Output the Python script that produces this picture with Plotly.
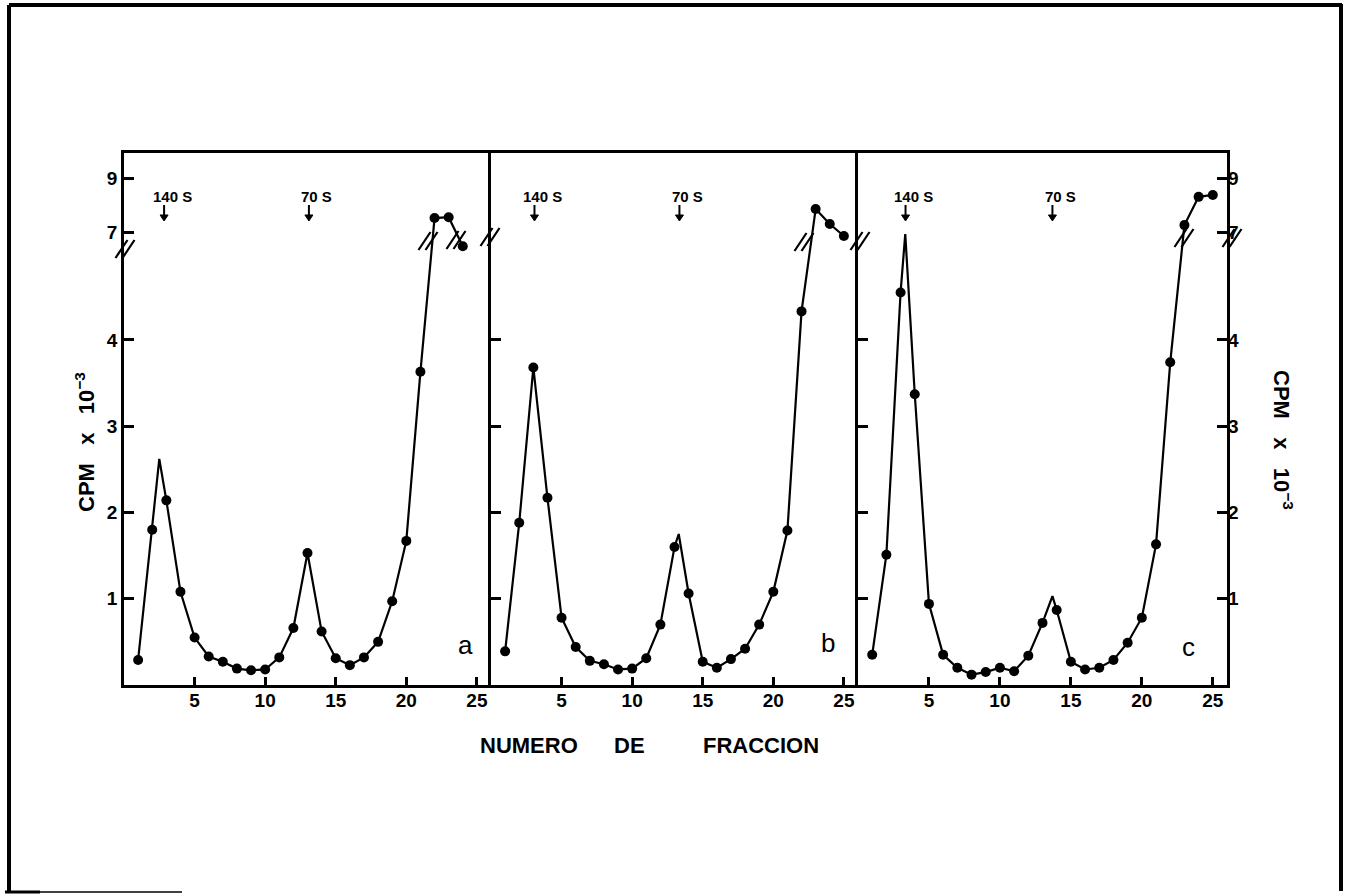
import plotly.graph_objects as go

# ---------------- data: CPM x 10^-3 per gradient fraction ----------------
fractions_a = list(range(1, 25))
cpm_a = [0.29, 1.80, 2.14, 1.08, 0.55, 0.33, 0.27, 0.19, 0.17, 0.18, 0.32, 0.66,
         1.53, 0.62, 0.31, 0.23, 0.32, 0.50, 0.97, 1.67, 3.63, 7.54, 7.57, 6.50]
apex_x_a = [2.5]
apex_cpm_a = [2.62]

fractions_b = list(range(1, 26))
cpm_b = [0.39, 1.88, 3.68, 2.17, 0.78, 0.44, 0.28, 0.24, 0.18, 0.19, 0.31, 0.70,
         1.60, 1.06, 0.27, 0.20, 0.30, 0.42, 0.70, 1.08, 1.79, 4.33, 7.87, 7.32, 6.88]
apex_x_b = [13.3]
apex_cpm_b = [1.75]

fractions_c = list(range(1, 26))
cpm_c = [0.35, 1.51, 4.55, 3.37, 0.94, 0.35, 0.20, 0.12, 0.15, 0.20, 0.16, 0.34,
         0.72, 0.87, 0.27, 0.18, 0.20, 0.29, 0.49, 0.78, 1.63, 3.74, 7.28, 8.32, 8.39]
apex_x_c = [3.33, 13.7]
apex_cpm_c = [6.95, 1.03]

panel_letters = ["a", "b", "c"]
marker_140S_x = [2.84, 3.08, 3.35]
marker_70S_x = [13.1, 13.35, 13.7]
marker_labels = ["140 S", "70 S"]

x_tick_vals = [5, 10, 15, 20, 25]
x_tick_text = ["5", "10", "15", "20", "25"]
y_tick_vals = [1, 2, 3, 4, 7, 9]
y_tick_text = ["1", "2", "3", "4", "7", "9"]
y_tick_vals_inner = [1, 2, 3, 4]
x_title_words = ["NUMERO", "DE", "FRACCION"]
y_title = "CPM\u00a0\u00a0\u00a0x\u00a0\u00a0\u00a010<sup>\u22123</sup>"

# ---------------- broken y axis (lower 0..5.1, upper 6.7..9.9 compressed) ----------------
BREAK_LOW, BREAK_HIGH, UPPER_SCALE = 5.135, 6.66, 0.315
Y_TOP = 6.166


def axis_pos(v):
    return v if v <= BREAK_LOW else BREAK_LOW + (v - BREAK_HIGH) * UPPER_SCALE


# ---------------- figure geometry ----------------
W, H = 1352, 894
ML, MR, MT, MB = 124, 125, 153, 209
PW, PH = W - ML - MR, H - MT - MB
D1, D2 = 367 / PW, 734 / PW


def pxx(px):
    return (px - ML) / PW


def pxy(py):
    return (H - MB - py) / PH


FONT = "Liberation Sans, Arial, sans-serif"

fig = go.Figure()
panels = [
    (fractions_a, cpm_a, apex_x_a, apex_cpm_a),
    (fractions_b, cpm_b, apex_x_b, apex_cpm_b),
    (fractions_c, cpm_c, apex_x_c, apex_cpm_c),
]
xa = ["x", "x2", "x3"]
ya = ["y", "y2", "y3"]
for i, (fx, fy, px_, py_) in enumerate(panels):
    pts = sorted(list(zip(fx, fy)) + list(zip(px_, py_)))
    fig.add_trace(go.Scatter(
        x=[p[0] for p in pts], y=[axis_pos(p[1]) for p in pts], mode="lines",
        line=dict(color="black", width=2.2), xaxis=xa[i], yaxis=ya[i],
        hoverinfo="skip", showlegend=False))
    fig.add_trace(go.Scatter(
        x=fx, y=[axis_pos(v) for v in fy], mode="markers",
        marker=dict(color="black", size=10), xaxis=xa[i], yaxis=ya[i],
        showlegend=False))
# dummy trace for the right-hand axis of panel c
fig.add_trace(go.Scatter(x=[None], y=[None], xaxis="x3", yaxis="y4", showlegend=False))

tickfont = dict(family=FONT, size=19, color="black", weight="bold")
xcommon = dict(range=[0, 26], tickvals=x_tick_vals, ticktext=x_tick_text,
               ticks="inside", ticklen=8, tickwidth=2.5, tickcolor="black",
               showline=True, linecolor="black", linewidth=3, mirror=True,
               showgrid=False, zeroline=False, tickfont=tickfont,
               ticklabelstandoff=-4)
ycommon = dict(range=[0, Y_TOP], ticks="inside", ticklen=10, tickwidth=2.5,
               tickcolor="black", showline=True, linecolor="black", linewidth=2.5,
               showgrid=False, zeroline=False, tickfont=tickfont)

fig.update_layout(
    width=W, height=H, margin=dict(l=ML, r=MR, t=MT, b=MB),
    plot_bgcolor="white", paper_bgcolor="white",
    xaxis=dict(domain=[0, D1], anchor="y", **xcommon),
    xaxis2=dict(domain=[D1, D2], anchor="y2", **xcommon),
    xaxis3=dict(domain=[D2, 1], anchor="y3", **xcommon),
    yaxis=dict(anchor="x", tickvals=[axis_pos(v) for v in y_tick_vals],
               ticktext=y_tick_text, mirror=False, **ycommon),
    yaxis2=dict(anchor="x2", tickvals=[axis_pos(v) for v in y_tick_vals_inner],
                showticklabels=False, mirror=False, **ycommon),
    yaxis3=dict(anchor="x3", tickvals=[axis_pos(v) for v in y_tick_vals_inner],
                showticklabels=False, mirror=True, **ycommon),
    yaxis4=dict(overlaying="y3", anchor="x3", side="right", range=[0, Y_TOP],
                tickvals=[axis_pos(v) for v in y_tick_vals], ticktext=y_tick_text,
                ticks="inside", ticklen=10, tickwidth=2.5, tickcolor="black",
                showline=False, showgrid=False, zeroline=False, tickfont=tickfont),
    showlegend=False,
)

annotations = []
shapes = []
# sedimentation markers: label text + small down arrow
for i in range(3):
    for lab, xs in zip(marker_labels, [marker_140S_x, marker_70S_x]):
        annotations.append(dict(x=xs[i], y=5.66, xref=xa[i], yref=ya[i], text=lab,
                                xshift=8, showarrow=False, xanchor="center",
                                yanchor="middle",
                                font=dict(family=FONT, size=15, color="black",
                                          weight="bold")))
        shapes.append(dict(type="line", xref=xa[i], yref=ya[i], x0=xs[i], x1=xs[i],
                           ysizemode="pixel", yanchor=5.378, y0=3, y1=16,
                           line=dict(color="black", width=2)))
        shapes.append(dict(type="path", xref=xa[i], yref=ya[i],
                           xsizemode="pixel", xanchor=xs[i],
                           ysizemode="pixel", yanchor=5.378,
                           path="M -4 6 L 4 6 L 0 0 Z", fillcolor="black",
                           line=dict(color="black", width=1)))
# panel letters
letter_pos = [(24.16, 0.467), (23.87, 0.49), (23.26, 0.44)]
for i, lab in enumerate(panel_letters):
    annotations.append(dict(x=letter_pos[i][0], y=letter_pos[i][1], xref=xa[i],
                            yref=ya[i], text=lab, showarrow=False,
                            xanchor="center", yanchor="middle",
                            font=dict(family=FONT, size=26, color="black")))
# x title words
for word, cx in zip(x_title_words, [529, 629, 761]):
    annotations.append(dict(x=pxx(cx), y=pxy(745), xref="paper", yref="paper",
                            text=word, showarrow=False, xanchor="center",
                            yanchor="middle",
                            font=dict(family=FONT, size=22, color="black",
                                      weight="bold")))
# y titles
annotations.append(dict(x=pxx(85), y=pxy(442), xref="paper", yref="paper",
                        text=y_title, textangle=-90, showarrow=False,
                        xanchor="center", yanchor="middle",
                        font=dict(family=FONT, size=22, color="black", weight="bold")))
annotations.append(dict(x=pxx(1283), y=pxy(440), xref="paper", yref="paper",
                        text=y_title, textangle=90, showarrow=False,
                        xanchor="center", yanchor="middle",
                        font=dict(family=FONT, size=22, color="black", weight="bold")))
fig.update_layout(annotations=annotations)

# axis-break slashes (pixel centres)
break_centres = [(125, 249), (428, 241), (456, 240), (490, 237), (804, 242),
                 (860, 241), (1184, 238), (1232, 238)]
for cx, cy in break_centres:
    for dx in (-3.5, 3.5):
        shapes.append(dict(type="line", xref="paper", yref="paper",
                           x0=pxx(cx + dx - 6), y0=pxy(cy + 9),
                           x1=pxx(cx + dx + 6), y1=pxy(cy - 9),
                           line=dict(color="black", width=2.2)))
# outer frame of the scanned page
frame = [((9, 5), (9, 893), 4), ((9, 5), (1342, 5), 4), ((1341, 4), (1341, 891), 4),
         ((5, 892), (40, 892), 3), ((40, 892), (182, 892), 1.5)]
for (x0, y0), (x1, y1), w in frame:
    shapes.append(dict(type="line", xref="paper", yref="paper",
                       x0=pxx(x0), y0=pxy(y0), x1=pxx(x1), y1=pxy(y1),
                       line=dict(color="black", width=w)))
fig.update_layout(shapes=shapes)

fig.write_html("out.html")
